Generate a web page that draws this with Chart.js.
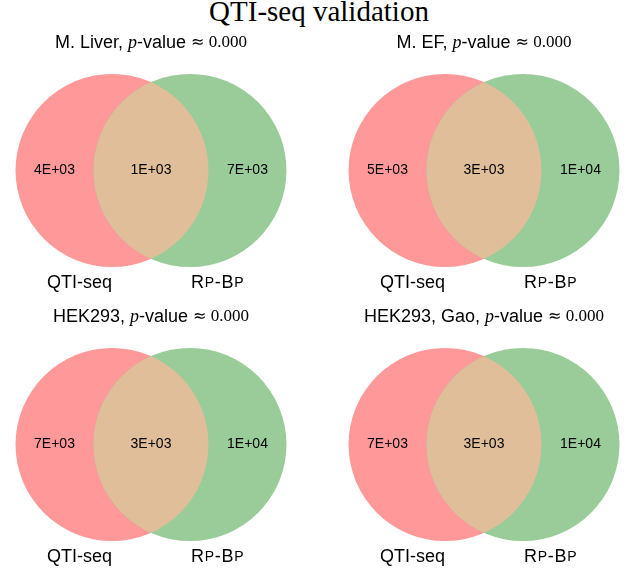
<!DOCTYPE html>
<html>
<head>
<meta charset="utf-8">
<script src="https://cdn.jsdelivr.net/npm/chart.js@4.4.0/dist/chart.umd.min.js"></script>
<style>
  body { margin: 0; background: #fff; }
  #wrap { position: relative; width: 630px; height: 575px; overflow: hidden; }
  #title { position: absolute; left: 0; top: -4px; width: 638px; text-align: center;
           font: 29px "Liberation Serif", serif; line-height: 30px; color: #000; }
  canvas { position: absolute; }
</style>
</head>
<body>
<div id="wrap">
  <div id="title">QTI-seq validation</div>
  <canvas id="venn0" width="297" height="274" style="left:0;top:25px"></canvas>
  <canvas id="venn1" width="297" height="274" style="left:333px;top:25px"></canvas>
  <canvas id="venn2" width="297" height="274" style="left:0;top:299px"></canvas>
  <canvas id="venn3" width="297" height="274" style="left:333px;top:299px"></canvas>
</div>
<script>
// data
const panelNames = ['M. Liver', 'M. EF', 'HEK293', 'HEK293, Gao'];
const pValues = [0.0, 0.0, 0.0, 0.0];
const onlyQti = [4000, 5000, 7000, 7000];
const shared = [1000, 3000, 3000, 3000];
const onlyRpbp = [7000, 10000, 10000, 10000];
const setNames = ['QTI-seq', 'Rp-Bp'];

const setColors = ['#ff9999', '#99cc99'];
const overlapColor = '#dfbe99';
// unweighted venn layout: two unit circles
const R = 1, OFF = 0.404;

const SANS = '"Liberation Sans", Arial, sans-serif';
const SERIF = '"Liberation Serif", "DejaVu Serif", serif';

function sci(v) {
    const [m, e] = v.toExponential(0).split('e');
    const n = parseInt(e, 10);
    return m + 'E' + (n < 0 ? '-' : '+') + String(Math.abs(n)).padStart(2, '0');
}

function drawSmallCaps(ctx, text, x, y, size) {
    let cx = x;
    for (const ch of text) {
        const small = ch !== ch.toUpperCase();
        ctx.font = (small ? size * 0.78 : size) + 'px ' + SANS;
        ctx.fillText(ch.toUpperCase(), cx, y);
        cx += ctx.measureText(ch.toUpperCase()).width + 0.7;
    }
}

const vennPlugin = {
    id: 'venn',
    afterDatasetsDraw(chart, args, opts) {
        const i = opts.panel;
        const { ctx, scales: { x, y } } = chart;
        const px = v => x.getPixelForValue(v);
        const py = v => y.getPixelForValue(v);
        const rad = px(R) - px(0);

        ctx.save();
        // overlap lens
        ctx.beginPath();
        ctx.arc(px(-OFF), py(0), rad, 0, Math.PI * 2);
        ctx.clip();
        ctx.beginPath();
        ctx.arc(px(OFF), py(0), rad, 0, Math.PI * 2);
        ctx.fillStyle = overlapColor;
        ctx.fill();
        ctx.restore();

        ctx.save();
        ctx.fillStyle = '#000';
        ctx.textBaseline = 'middle';
        ctx.textAlign = 'center';
        ctx.font = '14px ' + SANS;
        const counts = [onlyQti[i], shared[i], onlyRpbp[i]];
        [-1, 0, 1].forEach((pos, k) => ctx.fillText(sci(counts[k]), px(pos), py(0)));

        // set labels
        const ly = py(-1.166);
        ctx.font = '18px ' + SANS;
        ctx.textAlign = 'right';
        ctx.fillText(setNames[0], px(-OFF), ly);
        ctx.textAlign = 'left';
        drawSmallCaps(ctx, setNames[1], px(OFF) + 1, ly, 18);

        // subplot title
        const segs = [
            { t: panelNames[i] + ', ', f: '18px ' + SANS },
            { t: 'p', f: 'italic 18px ' + SERIF },
            { t: '-value ', f: '18px ' + SANS },
            { t: '\u2248', f: '16px "DejaVu Sans", sans-serif' },
            { t: ' ' + pValues[i].toFixed(3), f: '17px ' + SERIF }
        ];
        let w = 0;
        segs.forEach(s => { ctx.font = s.f; w += ctx.measureText(s.t).width; });
        let cx = px(0) - w / 2;
        ctx.textAlign = 'left';
        const ty = chart.chartArea.top - 2;
        segs.forEach(s => { ctx.font = s.f; ctx.fillText(s.t, cx, ty); cx += ctx.measureText(s.t).width; });
        ctx.restore();
    }
};

panelNames.forEach((name, i) => {
    new Chart(document.getElementById('venn' + i), {
        type: 'scatter',
        data: {
            datasets: [{
                label: name,
                data: [{ x: -OFF, y: 0 }, { x: OFF, y: 0 }],
                pointBackgroundColor: setColors,
                pointBorderWidth: 0,
                pointRadius: ctx => {
                    const s = ctx.chart.scales.x;
                    return s.getPixelForValue(R) - s.getPixelForValue(0);
                },
                clip: false
            }]
        },
        options: {
            responsive: false,
            animation: false,
            devicePixelRatio: 1,
            events: [],
            layout: { padding: { left: 6.25, right: 1.25, top: 20, bottom: 3 } },
            scales: {
                x: { type: 'linear', min: -1.5, max: 1.5, display: false },
                y: { type: 'linear', min: -1.3, max: 1.3, display: false }
            },
            plugins: {
                legend: { display: false },
                tooltip: { enabled: false },
                venn: { panel: i }
            }
        },
        plugins: [vennPlugin]
    });
});
</script>
</body>
</html>
